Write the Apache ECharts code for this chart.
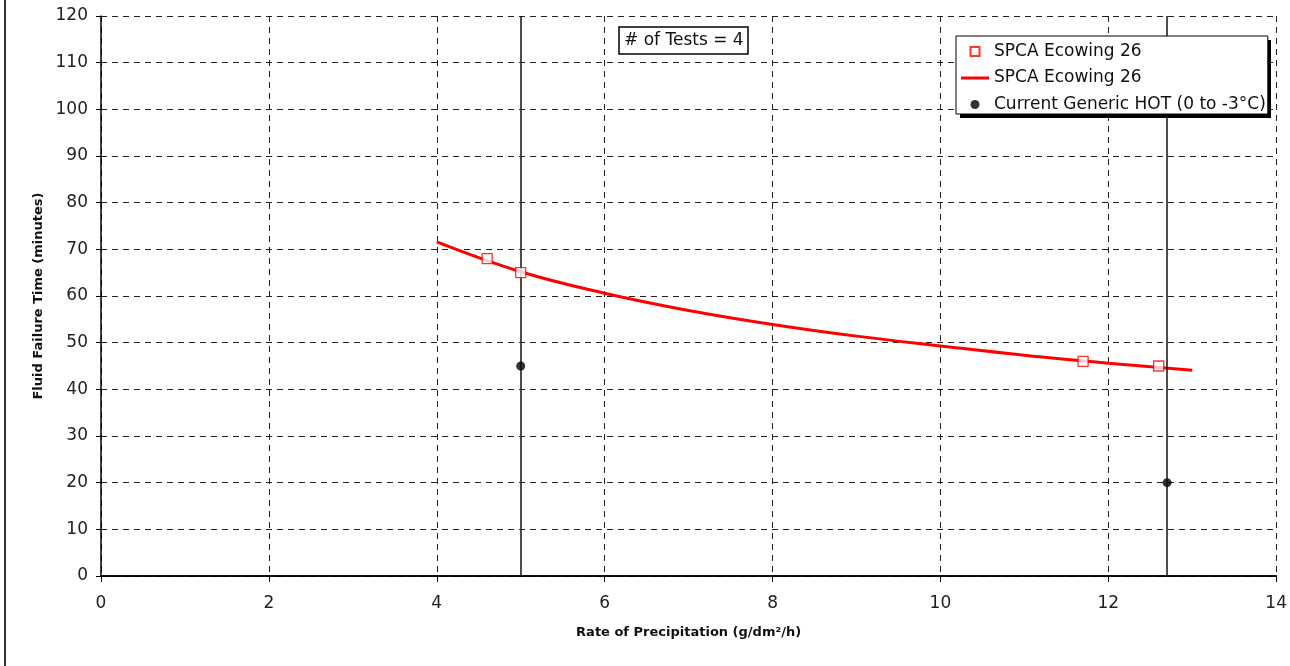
<!DOCTYPE html>
<html>
<head>
<meta charset="utf-8">
<script src="https://cdn.jsdelivr.net/npm/echarts@6/dist/echarts.min.js"></script>
<style>
html,body{margin:0;padding:0;background:#fff;}
#chart{width:1290px;height:666px;}
</style>
</head>
<body>
<div id="chart"></div>
<script>
// ---- data ----
const xTicks = [0, 2, 4, 6, 8, 10, 12, 14];
const yTicks = [0, 10, 20, 30, 40, 50, 60, 70, 80, 90, 100, 110, 120];
const spcaName = 'SPCA Ecowing 26';
const spcaX = [4.6, 5, 11.7, 12.6];
const spcaY = [68, 65, 46, 45];
const trendName = 'SPCA Ecowing 26 ';
const trendX = [4, 5, 6, 7, 8, 9, 10, 11, 12, 13];
const trendY = [71.6, 65.2, 60.6, 56.9, 53.9, 51.4, 49.3, 47.3, 45.6, 44.1];
const hotName = 'Current Generic HOT (0 to -3°C)';
const hotX = [5, 12.7];
const hotY = [45, 20];
const annotationText = '# of Tests = 4';
const xAxisName = 'Rate of Precipitation (g/dm²/h)';
const yAxisName = 'Fluid Failure Time (minutes)';

const pairs = (xs, ys) => xs.map((x, i) => [x, ys[i]]);
const FONT = 'DejaVu Sans';

const chart = echarts.init(document.getElementById('chart'), null, {renderer: 'canvas'});
chart.setOption({
  animation: false,
  backgroundColor: '#fff',
  textStyle: {fontFamily: FONT},
  grid: {left: 101, right: 9, top: 16, bottom: 90, containLabel: false},
  title: {
    text: annotationText,
    left: 619, top: 27,
    padding: [4, 5, 4, 5],
    borderColor: '#000', borderWidth: 1.5,
    backgroundColor: '#fff',
    textStyle: {fontFamily: FONT, fontSize: 17, fontWeight: 'normal', color: '#111', lineHeight: 19}
  },
  legend: {
    orient: 'vertical',
    left: 956, top: 36,
    padding: [6, 2, 0, 5],
    itemWidth: 28, itemHeight: 9, itemGap: 7.5,
    symbolKeepAspect: true,
    backgroundColor: '#fff',
    borderColor: '#000', borderWidth: 1,
    selectedMode: false,
    z: 6,
    textStyle: {fontFamily: FONT, fontSize: 17, color: '#111', lineHeight: 19},
    formatter: n => n.trim(),
    data: [
      {name: spcaName, icon: 'path://M0,0L10,0L10,10L0,10Z'},
      {name: trendName, icon: 'path://M0,0L28,0L28,3L0,3Z'},
      {name: hotName, icon: 'circle'}
    ]
  },
  xAxis: [{
    type: 'value', min: xTicks[0], max: xTicks[xTicks.length - 1], interval: 2,
    name: xAxisName, nameLocation: 'middle', nameGap: 50,
    nameTextStyle: {fontFamily: FONT, fontSize: 13, fontWeight: 'bold', color: '#111'},
    axisLine: {show: true, onZero: false, lineStyle: {color: '#000', width: 1.5}},
    axisTick: {show: true, inside: false, length: 6, lineStyle: {color: '#000'}},
    axisLabel: {fontFamily: FONT, fontSize: 17, color: '#222', margin: 19},
    splitLine: {show: true, lineStyle: {color: '#222', type: [6, 5], width: 1}}
  }, {
    type: 'value', position: 'top', min: xTicks[0], max: xTicks[xTicks.length - 1],
    axisLine: {show: true, lineStyle: {color: '#000', width: 1.5}},
    axisTick: {show: false}, axisLabel: {show: false}, splitLine: {show: false}
  }],
  yAxis: {
    type: 'value', min: yTicks[0], max: yTicks[yTicks.length - 1], interval: 10,
    name: yAxisName, nameLocation: 'middle', nameGap: 56,
    nameTextStyle: {fontFamily: FONT, fontSize: 13, fontWeight: 'bold', color: '#111'},
    axisLine: {show: true, onZero: false, lineStyle: {color: '#000', width: 1.5}},
    axisTick: {show: true, inside: false, length: 5, lineStyle: {color: '#000'}},
    axisLabel: {fontFamily: FONT, fontSize: 17, color: '#222', margin: 13},
    splitLine: {show: true, lineStyle: {color: '#222', type: [6, 5], width: 1}}
  },
  graphic: [{
    type: 'line', silent: true,
    shape: {x1: 5, y1: 0, x2: 5, y2: 666},
    style: {stroke: '#333', lineWidth: 2}
  }, {
    type: 'rect', silent: true, z: 5,
    shape: {x: 960, y: 40, width: 311, height: 78},
    style: {fill: '#000'}
  }],
  series: [{
    name: hotName,
    type: 'scatter',
    data: pairs(hotX, hotY),
    symbol: 'circle', symbolSize: 9,
    itemStyle: {color: '#000'},
    z: 3,
    markLine: {
      silent: true, symbol: ['none', 'none'],
      label: {show: false},
      lineStyle: {color: '#111', type: 'solid', width: 1.5},
      data: hotX.map(x => ({xAxis: x}))
    }
  }, {
    name: trendName,
    type: 'line',
    data: pairs(trendX, trendY),
    smooth: 0.4,
    symbol: 'none', showSymbol: false,
    lineStyle: {color: '#ff0000', width: 3},
    itemStyle: {color: '#ff0000'},
    z: 4
  }, {
    name: spcaName,
    type: 'scatter',
    data: pairs(spcaX, spcaY),
    symbol: 'rect', symbolSize: 10,
    itemStyle: {color: '#fff', borderColor: '#ff0000', borderWidth: 1.3},
    z: 5
  }]
});
</script>
</body>
</html>
